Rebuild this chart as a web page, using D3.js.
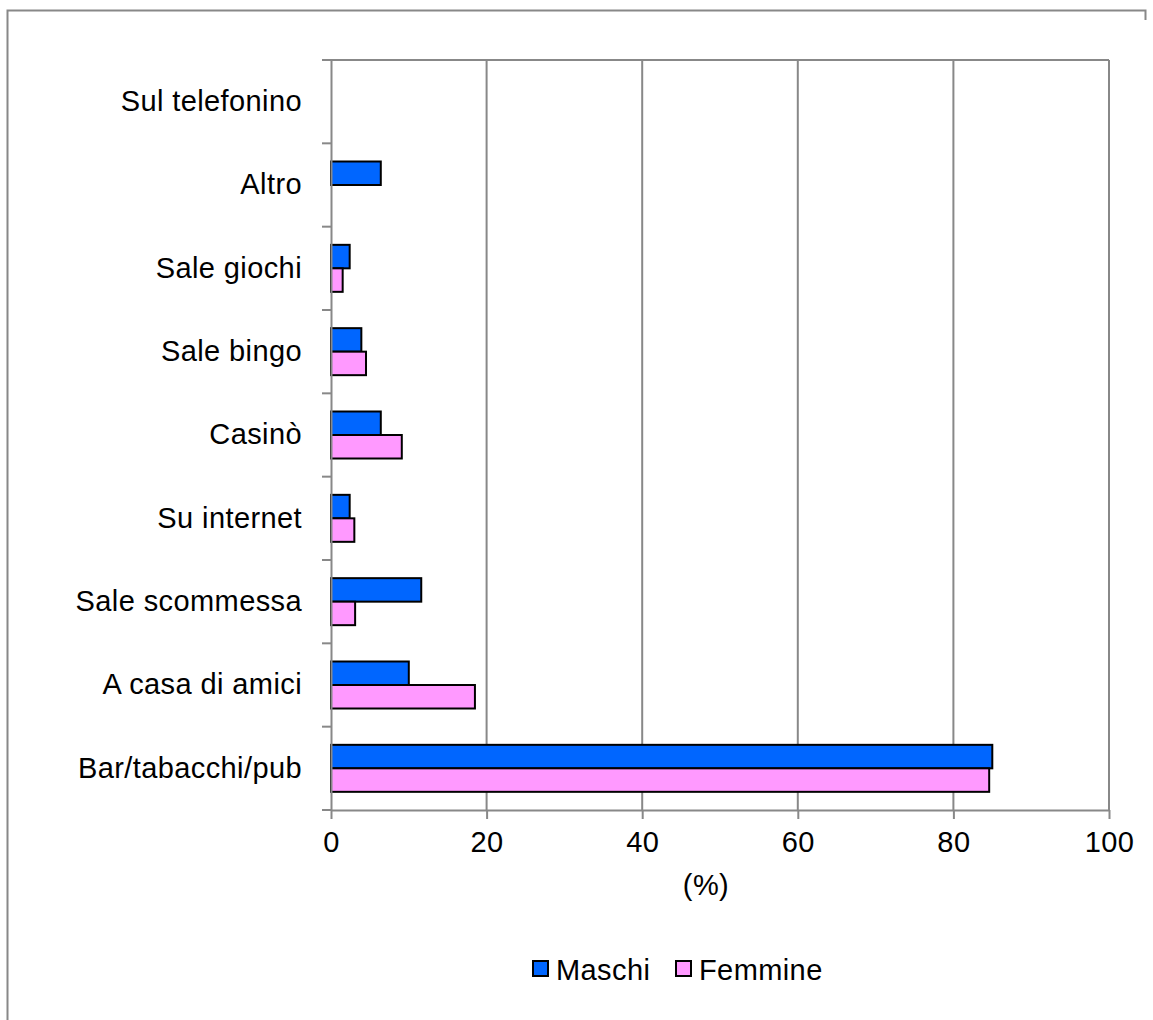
<!DOCTYPE html>
<html><head><meta charset="utf-8">
<script src="https://cdn.jsdelivr.net/npm/d3@7/dist/d3.min.js"></script>
<style>body{margin:0;background:#fff}svg{display:block}text{font-family:"Liberation Sans",Arial,sans-serif;fill:#000;letter-spacing:0.4px}</style>
</head><body>
<script>
const categories = ["Sul telefonino","Altro","Sale giochi","Sale bingo","Casinò","Su internet","Sale scommessa","A casa di amici","Bar/tabacchi/pub"];
const maschi  = [0, 6.4, 2.4, 3.9, 6.4, 2.4, 11.6, 10.0, 85.0];
const femmine = [0, 0, 1.5, 4.5, 9.1, 3.0, 3.1, 18.5, 84.6];
const series = ["Maschi","Femmine"];
const colors = ["#0066FF","#FF99FF"];
const xTicks = [0,20,40,60,80,100];

const W=1153,H=1020,FS=29;
const svg=d3.select("body").append("svg").attr("width",W).attr("height",H);
// chart border
svg.append("path").attr("d","M7.5,1020 V10.5 H1145.5 V20").attr("fill","none").attr("stroke","#888").attr("stroke-width",2);

const L=331,R=1109,T=60,B=810;
const x=d3.scaleLinear().domain([0,100]).range([L,R]);
const y=d3.scaleBand().domain(categories).range([T,B]);
const inner=d3.scaleBand().domain(series).range([0,47]);

// gridlines
svg.append("g").selectAll("line").data(xTicks.slice(1)).join("line")
 .attr("x1",d=>x(d)).attr("x2",d=>x(d)).attr("y1",T).attr("y2",B)
 .attr("stroke","#888").attr("stroke-width",2);
svg.append("line").attr("x1",L).attr("x2",R).attr("y1",T).attr("y2",T).attr("stroke","#888").attr("stroke-width",2);

// bars
const data=categories.map((c,i)=>({c,vals:[maschi[i],femmine[i]]}));
const g=svg.append("g");
data.forEach(d=>{
  d.vals.forEach((v,j)=>{
    if(v<=0) return;
    const y0=y(d.c)+y.bandwidth()/2-23.5+inner(series[j]);
    g.append("rect").attr("x",x(0)).attr("y",y0).attr("width",x(v)-x(0)).attr("height",inner.bandwidth())
     .attr("fill",colors[j]).attr("stroke","#000").attr("stroke-width",2);
  });
});

// x axis
const xa=svg.append("g").attr("transform",`translate(0,${B})`)
 .call(d3.axisBottom(x).tickValues(xTicks).tickSize(9).tickSizeOuter(0));
xa.select(".domain").attr("stroke","#888").attr("stroke-width",2);
xa.selectAll(".tick line").attr("stroke","#888").attr("stroke-width",2);
xa.selectAll(".tick text").attr("font-size",FS).attr("dy",0).attr("y",42).attr("fill","#000");

// y axis
const ya=svg.append("g").attr("transform",`translate(${L},0)`)
 .call(d3.axisLeft(y).tickSize(0).tickPadding(29));
ya.select(".domain").attr("stroke","#888").attr("stroke-width",2);
ya.selectAll(".tick text").attr("font-size",FS).attr("fill","#000");
// category ticks at band boundaries
const bounds=categories.map(c=>y(c)).concat([B]);
svg.append("g").selectAll("line").data(bounds).join("line")
 .attr("x1",L-9).attr("x2",L).attr("y1",d=>d).attr("y2",d=>d).attr("stroke","#888").attr("stroke-width",2);

// axis title
svg.append("text").attr("x",706).attr("y",895).attr("text-anchor","middle").attr("font-size",FS).text("(%)");

// legend
const leg=svg.append("g");
const items=[{x:533,t:"Maschi"},{x:676,t:"Femmine"}];
items.forEach((it,i)=>{
  leg.append("rect").attr("x",it.x).attr("y",961).attr("width",15).attr("height",15).attr("fill",colors[i]).attr("stroke","#000").attr("stroke-width",2);
  leg.append("text").attr("x",it.x+23).attr("y",980).attr("font-size",FS).text(it.t);
});
</script>
</body></html>
